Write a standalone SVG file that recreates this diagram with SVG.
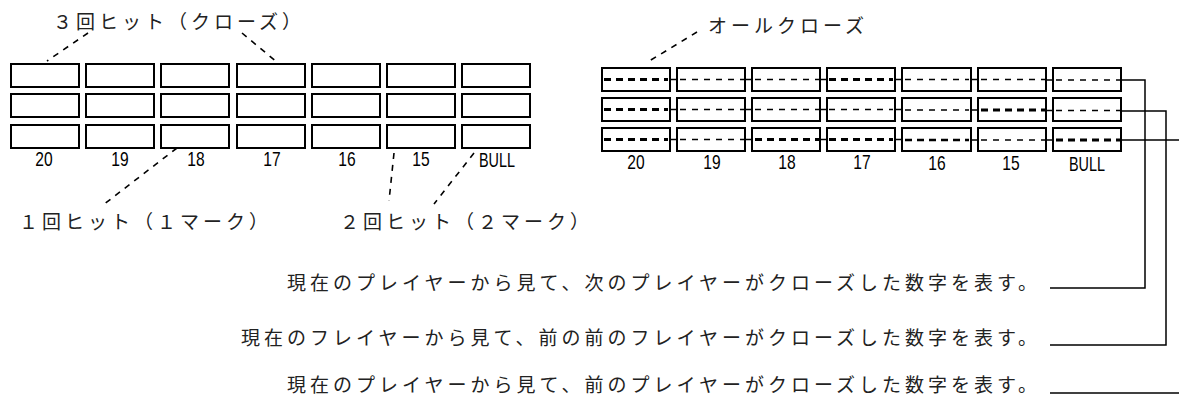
<svg xmlns="http://www.w3.org/2000/svg" width="1179" height="400" viewBox="0 0 1179 400">
<style>
.bx{fill:#fff;stroke:#000;stroke-width:2}
.num{font-family:"Liberation Sans",Arial,sans-serif;font-size:20px;fill:#000;text-anchor:middle}
.jp{font-family:"Noto Sans CJK JP",sans-serif;font-size:19px;letter-spacing:4px;fill:#222}
.ld{fill:none;stroke:#000;stroke-width:1.6;stroke-dasharray:6 6}
.dt{fill:none;stroke:#000;stroke-width:1.5;stroke-dasharray:6 6}
.db{fill:none;stroke:#000;stroke-width:3;stroke-dasharray:7 5}
.dm{fill:none;stroke:#000;stroke-width:2.3;stroke-dasharray:7 5}
.ln{fill:none;stroke:#000;stroke-width:1.5}
</style>
<g id="left-grid">
<g id="L-20"><rect class="bx" x="11" y="64" width="68" height="23"/><rect class="bx" x="11" y="94" width="68" height="23"/><rect class="bx" x="11" y="125" width="68" height="23"/><text class="num" transform="translate(44,166) scale(0.78,1)">20</text></g>
<g id="L-19"><rect class="bx" x="86" y="64" width="68" height="23"/><rect class="bx" x="86" y="94" width="68" height="23"/><rect class="bx" x="86" y="125" width="68" height="23"/><text class="num" transform="translate(120,166) scale(0.78,1)">19</text></g>
<g id="L-18"><rect class="bx" x="161" y="64" width="68" height="23"/><rect class="bx" x="161" y="94" width="68" height="23"/><rect class="bx" x="161" y="125" width="68" height="23"/><text class="num" transform="translate(196,166) scale(0.78,1)">18</text></g>
<g id="L-17"><rect class="bx" x="237" y="64" width="68" height="23"/><rect class="bx" x="237" y="94" width="68" height="23"/><rect class="bx" x="237" y="125" width="68" height="23"/><text class="num" transform="translate(272,166) scale(0.78,1)">17</text></g>
<g id="L-16"><rect class="bx" x="312" y="64" width="68" height="23"/><rect class="bx" x="312" y="94" width="68" height="23"/><rect class="bx" x="312" y="125" width="68" height="23"/><text class="num" transform="translate(347,166) scale(0.78,1)">16</text></g>
<g id="L-15"><rect class="bx" x="387" y="64" width="68" height="23"/><rect class="bx" x="387" y="94" width="68" height="23"/><rect class="bx" x="387" y="125" width="68" height="23"/><text class="num" transform="translate(421,166) scale(0.78,1)">15</text></g>
<g id="L-BULL"><rect class="bx" x="462" y="64" width="68" height="23"/><rect class="bx" x="462" y="94" width="68" height="23"/><rect class="bx" x="462" y="125" width="68" height="23"/><text class="num" transform="translate(497,167) scale(0.72,1)">BULL</text></g>
</g>
<g id="right-grid">
<g id="R-20"><rect class="bx" x="602" y="68" width="68" height="23"/><rect class="bx" x="602" y="98" width="68" height="23"/><rect class="bx" x="602" y="128" width="68" height="23"/><text class="num" transform="translate(636,169) scale(0.78,1)">20</text></g>
<g id="R-19"><rect class="bx" x="677" y="68" width="68" height="23"/><rect class="bx" x="677" y="98" width="68" height="23"/><rect class="bx" x="677" y="128" width="68" height="23"/><text class="num" transform="translate(712,169) scale(0.78,1)">19</text></g>
<g id="R-18"><rect class="bx" x="752" y="68" width="68" height="23"/><rect class="bx" x="752" y="98" width="68" height="23"/><rect class="bx" x="752" y="128" width="68" height="23"/><text class="num" transform="translate(787,169) scale(0.78,1)">18</text></g>
<g id="R-17"><rect class="bx" x="827" y="68" width="68" height="23"/><rect class="bx" x="827" y="98" width="68" height="23"/><rect class="bx" x="827" y="128" width="68" height="23"/><text class="num" transform="translate(862,169) scale(0.78,1)">17</text></g>
<g id="R-16"><rect class="bx" x="902" y="68" width="69" height="23"/><rect class="bx" x="902" y="98" width="69" height="23"/><rect class="bx" x="902" y="128" width="69" height="23"/><text class="num" transform="translate(937,170) scale(0.78,1)">16</text></g>
<g id="R-15"><rect class="bx" x="978" y="68" width="68" height="23"/><rect class="bx" x="978" y="98" width="68" height="23"/><rect class="bx" x="978" y="128" width="68" height="23"/><text class="num" transform="translate(1011,170) scale(0.78,1)">15</text></g>
<g id="R-BULL"><rect class="bx" x="1053" y="68" width="68" height="23"/><rect class="bx" x="1053" y="98" width="68" height="23"/><rect class="bx" x="1053" y="128" width="68" height="23"/><text class="num" transform="translate(1087,171) scale(0.72,1)">BULL</text></g>
</g>
<g id="connectors">
<path class="db" d="M604 79.5H668"/><path class="dt" d="M680 79.5H744"/><path class="dt" d="M755 79.5H819"/><path class="db" d="M829 79.5H893"/><path class="dt" d="M905 79.5H969"/><path class="dt" d="M981 79.5H1045"/><path class="dt" d="M1056 80H1120"/>
<path class="db" d="M604 109.5H668"/><path class="dt" d="M680 109.5H744"/><path class="dt" d="M755 109.5H819"/><path class="dt" d="M829 109.5H893"/><path class="dt" d="M905 110H969"/><path class="db" d="M981 110H1045"/><path class="dt" d="M1056 110.5H1120"/>
<path class="db" d="M604 139.5H668"/><path class="dt" d="M680 139.5H744"/><path class="db" d="M755 139.5H819"/><path class="db" d="M829 139.5H893"/><path class="dm" d="M905 140H969"/><path class="dt" d="M981 140H1045"/><path class="db" d="M1056 140H1120"/>
<path class="ln" d="M670 79.5H677M745 79.5H752M820 79.5H827M895 79.5H902M971 79.5H978M1046 80H1053"/>
<path class="ln" d="M670 109.5H677M745 109.5H752M820 109.5H827M895 109.5H902M971 110H978M1046 110.5H1053"/>
<path class="ln" d="M670 139.5H677M745 139.5H752M820 139.5H827M895 139.5H902M971 140H978M1046 140H1053"/>
<path class="ld" d="M88 33L47 61"/>
<path class="ld" d="M242 33L278 63"/>
<path class="ld" d="M177 148L103 205"/>
<path class="ld" d="M394 153L389 201"/>
<path class="ld" d="M474 153L434 204"/>
<path class="ld" d="M697 32L646 63"/>
<path class="ln" d="M1121 80H1145V288H1050"/>
<path class="ln" d="M1121 111H1166V345H1050"/>
<path class="ln" d="M1121 140H1179"/>
<path class="ln" d="M1050 393H1179"/>
</g>
<g id="labels">
<text class="jp" x="53" y="29">３回ヒット（クローズ）</text>
<text class="jp" x="19" y="229">１回ヒット（１マーク）</text>
<text class="jp" x="340" y="229">２回ヒット（２マーク）</text>
<text class="jp" x="708" y="33">オールクローズ</text>
<text class="jp" x="287" y="290">現在のプレイヤーから見て、次のプレイヤーがクローズした数字を表す。</text>
<text class="jp" x="241" y="345">現在のフレイヤーから見て、前の前のフレイヤーがクローズした数字を表す。</text>
<text class="jp" x="287" y="392">現在のプレイヤーから見て、前のプレイヤーがクローズした数字を表す。</text>
</g>
</svg>
